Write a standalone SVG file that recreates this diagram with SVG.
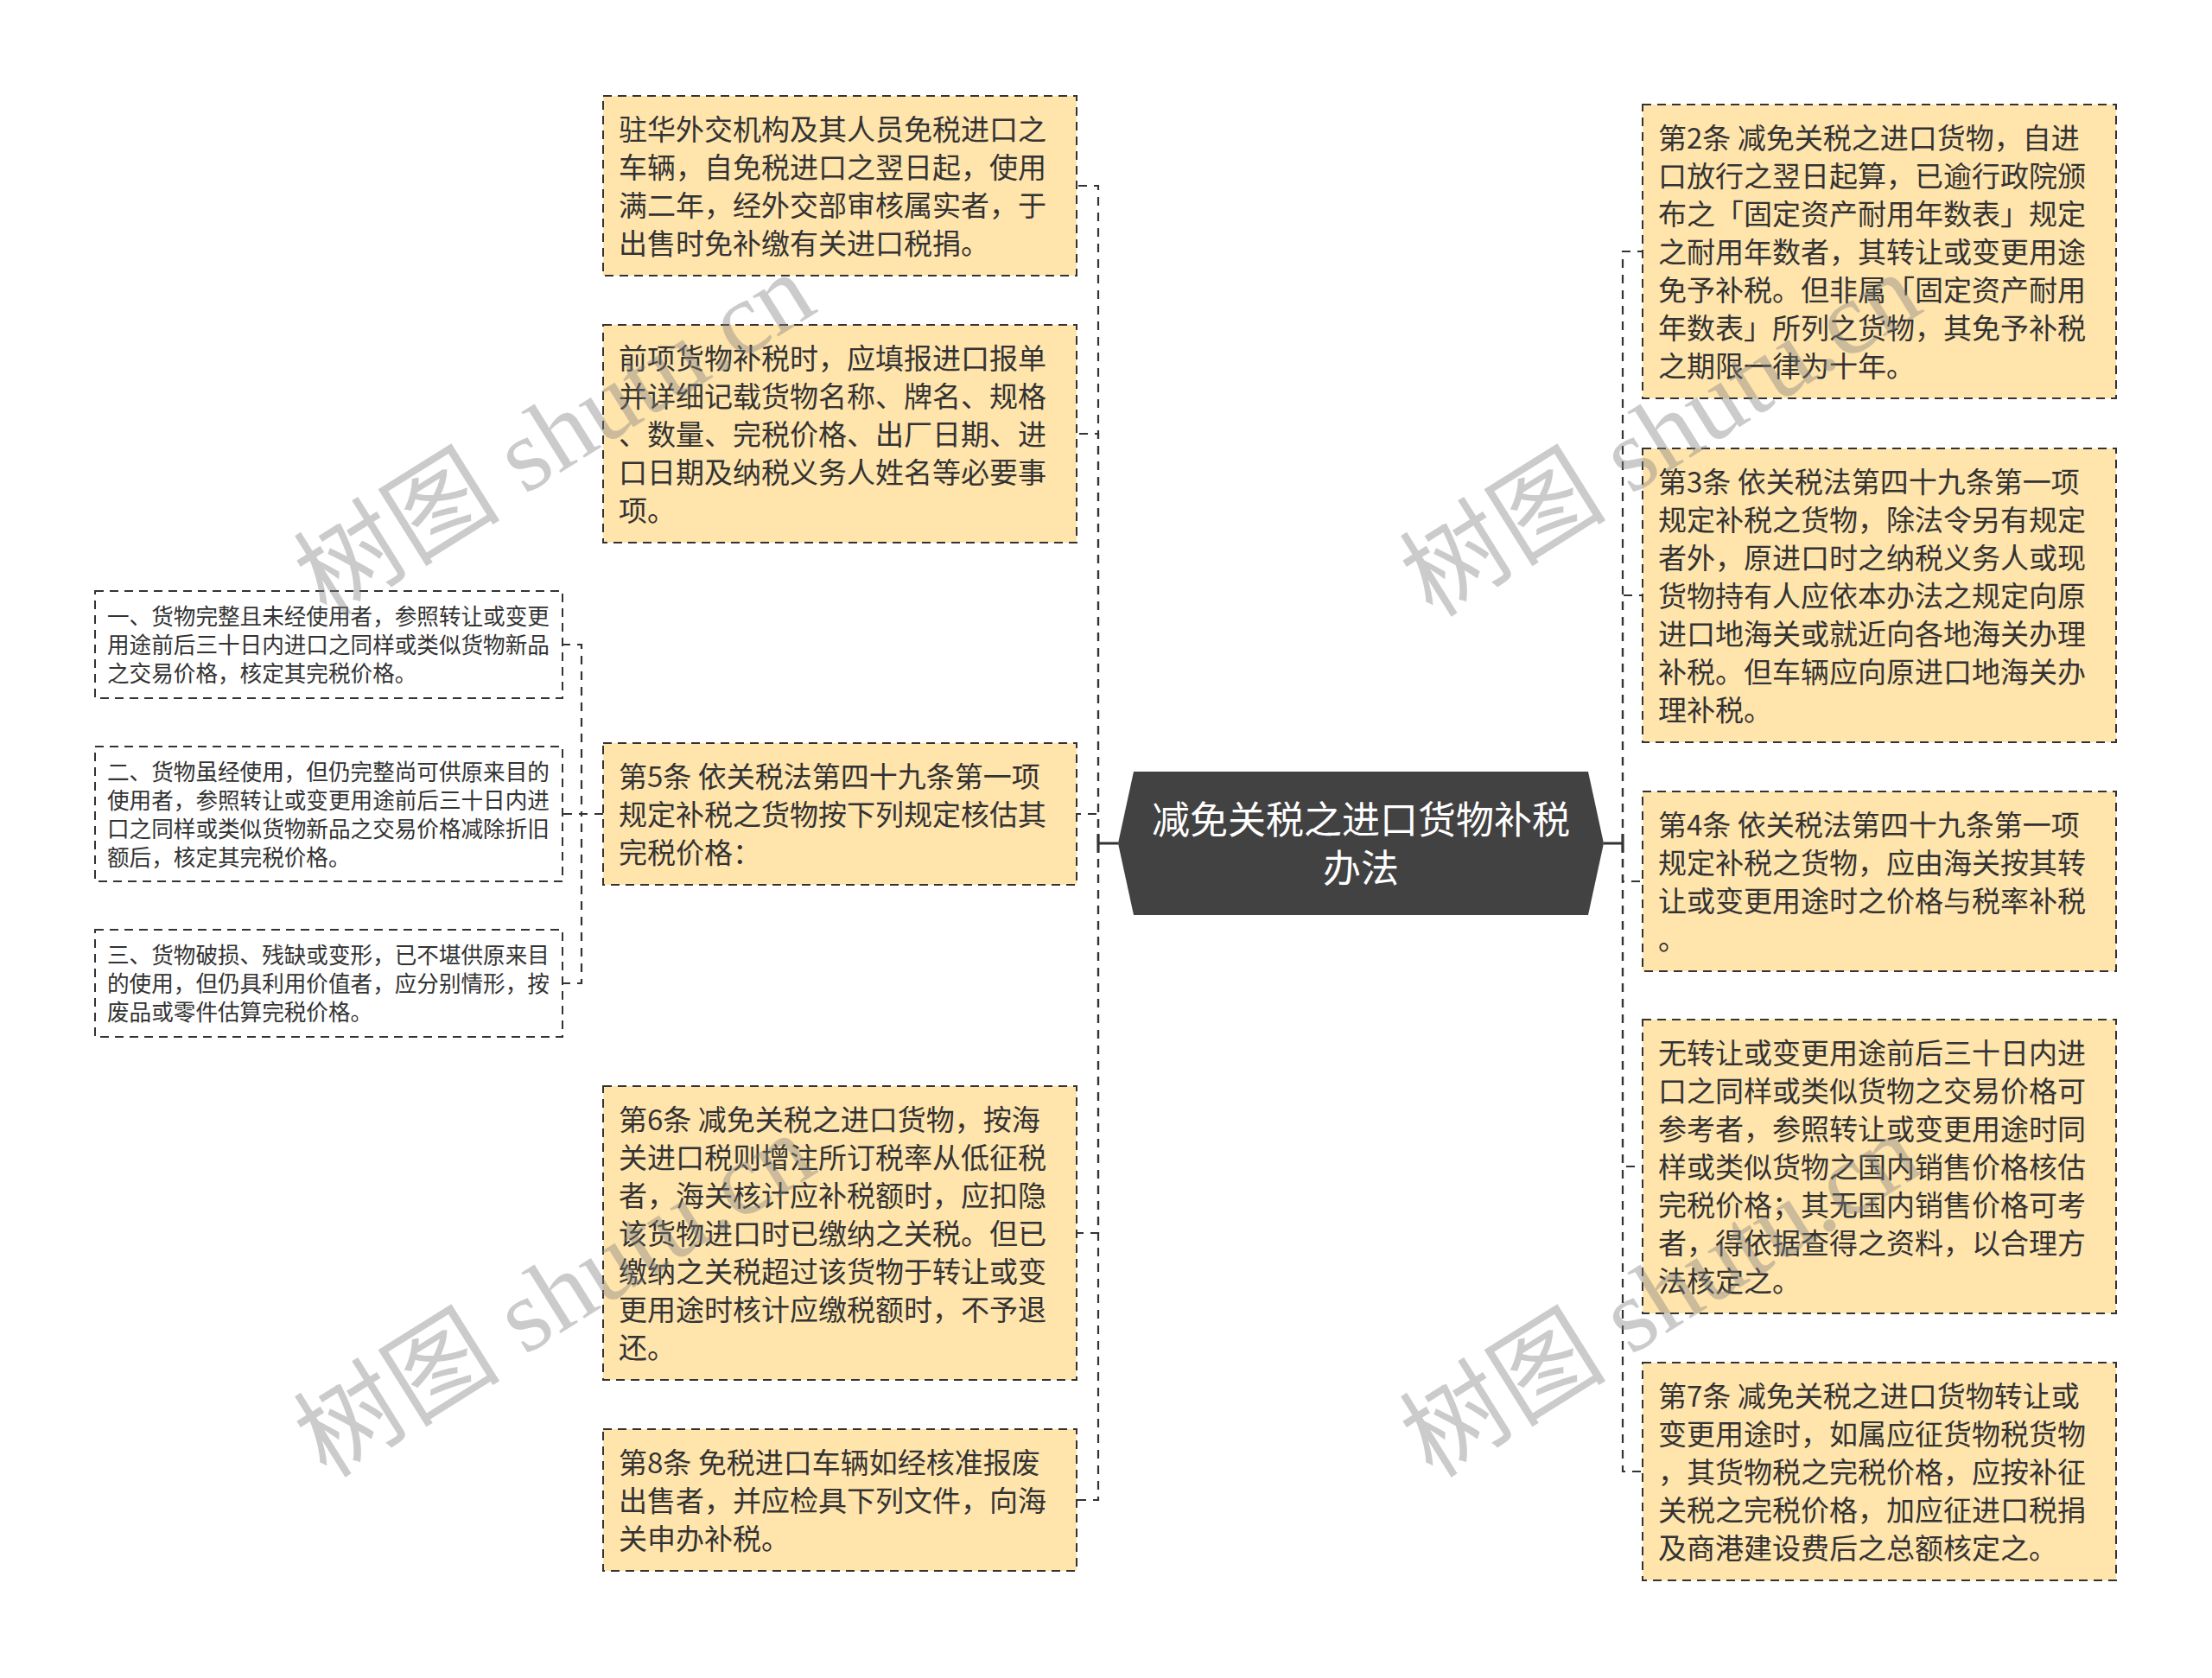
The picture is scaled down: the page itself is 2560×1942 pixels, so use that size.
<svg xmlns="http://www.w3.org/2000/svg" width="2560" height="1942" viewBox="0 0 2560 1942">
<style>
.box{fill:#FFE4AC;stroke:#333;stroke-width:2;stroke-dasharray:10 7}
.sbox{fill:#fff;stroke:#333;stroke-width:2;stroke-dasharray:10 7}
.t{font-family:"Noto Sans CJK SC","Noto Sans",sans-serif;font-size:33px;fill:#333}
.st{font-family:"Noto Sans CJK SC","Noto Sans",sans-serif;font-size:25.6px;fill:#333}
.ct{font-family:"Noto Sans CJK SC","Noto Sans",sans-serif;font-size:44px;fill:#fff;text-anchor:middle}
.dash{fill:none;stroke:#333;stroke-width:2.2;stroke-dasharray:10 8}
.solid{fill:none;stroke:#333;stroke-width:3}
.wm{font-family:"Liberation Serif","Noto Sans CJK SC",serif;font-size:120px;fill:#808080;opacity:0.4}
</style>
<rect width="2560" height="1942" fill="#fff"/>
<g id="connectors">
<path class="dash" d="M1271,976 V215 H1246"/>
<path class="dash" d="M1271,976 V502 H1246"/>
<path class="dash" d="M1271,976 V942 H1246"/>
<path class="dash" d="M1271,976 V1427 H1246"/>
<path class="dash" d="M1271,976 V1736 H1246"/>
<path class="dash" d="M1878,976 V291 H1901"/>
<path class="dash" d="M1878,976 V689 H1901"/>
<path class="dash" d="M1878,976 V1020 H1901"/>
<path class="dash" d="M1878,976 V1350 H1901"/>
<path class="dash" d="M1878,976 V1703 H1901"/>
<path class="dash" d="M698,942 H673 V746 H651"/>
<path class="dash" d="M698,942 H651"/>
<path class="dash" d="M698,942 H673 V1138 H651"/>
<path class="solid" d="M1294,976 H1271 M1271,965 V987"/>
<path class="solid" d="M1856,976 H1878 M1878,965 V987"/>
</g>
<g id="center">
<polygon points="1294,976 1312,893 1838,893 1856,976 1838,1059 1312,1059" fill="#424242"/>
<text class="ct" x="1575" y="965">减免关税之进口货物补税</text>
<text class="ct" x="1575" y="1021">办法</text>
</g>
<g id="L1">
<rect class="box" x="698" y="111" width="548" height="208"/>
<text class="t"><tspan x="716" y="161.5">驻华外交机构及其人员免税进口之</tspan><tspan x="716" y="205.5">车辆，自免税进口之翌日起，使用</tspan><tspan x="716" y="249.5">满二年，经外交部审核属实者，于</tspan><tspan x="716" y="293.5">出售时免补缴有关进口税捐。</tspan></text>
</g>
<g id="L2">
<rect class="box" x="698" y="376" width="548" height="252"/>
<text class="t"><tspan x="716" y="426.5">前项货物补税时，应填报进口报单</tspan><tspan x="716" y="470.5">并详细记载货物名称、牌名、规格</tspan><tspan x="716" y="514.5">、数量、完税价格、出厂日期、进</tspan><tspan x="716" y="558.5">口日期及纳税义务人姓名等必要事</tspan><tspan x="716" y="602.5">项。</tspan></text>
</g>
<g id="L3">
<rect class="box" x="698" y="860" width="548" height="164"/>
<text class="t"><tspan x="716" y="910.5">第5条 依关税法第四十九条第一项</tspan><tspan x="716" y="954.5">规定补税之货物按下列规定核估其</tspan><tspan x="716" y="998.5">完税价格：</tspan></text>
</g>
<g id="L4">
<rect class="box" x="698" y="1257" width="548" height="340"/>
<text class="t"><tspan x="716" y="1307.5">第6条 减免关税之进口货物，按海</tspan><tspan x="716" y="1351.5">关进口税则增注所订税率从低征税</tspan><tspan x="716" y="1395.5">者，海关核计应补税额时，应扣隐</tspan><tspan x="716" y="1439.5">该货物进口时已缴纳之关税。但已</tspan><tspan x="716" y="1483.5">缴纳之关税超过该货物于转让或变</tspan><tspan x="716" y="1527.5">更用途时核计应缴税额时，不予退</tspan><tspan x="716" y="1571.5">还。</tspan></text>
</g>
<g id="L5">
<rect class="box" x="698" y="1654" width="548" height="164"/>
<text class="t"><tspan x="716" y="1704.5">第8条 免税进口车辆如经核准报废</tspan><tspan x="716" y="1748.5">出售者，并应检具下列文件，向海</tspan><tspan x="716" y="1792.5">关申办补税。</tspan></text>
</g>
<g id="R1">
<rect class="box" x="1901" y="121" width="548" height="340"/>
<text class="t"><tspan x="1919" y="171.5">第2条 减免关税之进口货物，自进</tspan><tspan x="1919" y="215.5">口放行之翌日起算，已逾行政院颁</tspan><tspan x="1919" y="259.5">布之「固定资产耐用年数表」规定</tspan><tspan x="1919" y="303.5">之耐用年数者，其转让或变更用途</tspan><tspan x="1919" y="347.5">免予补税。但非属「固定资产耐用</tspan><tspan x="1919" y="391.5">年数表」所列之货物，其免予补税</tspan><tspan x="1919" y="435.5">之期限一律为十年。</tspan></text>
</g>
<g id="R2">
<rect class="box" x="1901" y="519" width="548" height="340"/>
<text class="t"><tspan x="1919" y="569.5">第3条 依关税法第四十九条第一项</tspan><tspan x="1919" y="613.5">规定补税之货物，除法令另有规定</tspan><tspan x="1919" y="657.5">者外，原进口时之纳税义务人或现</tspan><tspan x="1919" y="701.5">货物持有人应依本办法之规定向原</tspan><tspan x="1919" y="745.5">进口地海关或就近向各地海关办理</tspan><tspan x="1919" y="789.5">补税。但车辆应向原进口地海关办</tspan><tspan x="1919" y="833.5">理补税。</tspan></text>
</g>
<g id="R3">
<rect class="box" x="1901" y="916" width="548" height="208"/>
<text class="t"><tspan x="1919" y="966.5">第4条 依关税法第四十九条第一项</tspan><tspan x="1919" y="1010.5">规定补税之货物，应由海关按其转</tspan><tspan x="1919" y="1054.5">让或变更用途时之价格与税率补税</tspan><tspan x="1919" y="1098.5">。</tspan></text>
</g>
<g id="R4">
<rect class="box" x="1901" y="1180" width="548" height="340"/>
<text class="t"><tspan x="1919" y="1230.5">无转让或变更用途前后三十日内进</tspan><tspan x="1919" y="1274.5">口之同样或类似货物之交易价格可</tspan><tspan x="1919" y="1318.5">参考者，参照转让或变更用途时同</tspan><tspan x="1919" y="1362.5">样或类似货物之国内销售价格核估</tspan><tspan x="1919" y="1406.5">完税价格；其无国内销售价格可考</tspan><tspan x="1919" y="1450.5">者，得依据查得之资料，以合理方</tspan><tspan x="1919" y="1494.5">法核定之。</tspan></text>
</g>
<g id="R5">
<rect class="box" x="1901" y="1577" width="548" height="252"/>
<text class="t"><tspan x="1919" y="1627.5">第7条 减免关税之进口货物转让或</tspan><tspan x="1919" y="1671.5">变更用途时，如属应征货物税货物</tspan><tspan x="1919" y="1715.5">，其货物税之完税价格，应按补征</tspan><tspan x="1919" y="1759.5">关税之完税价格，加应征进口税捐</tspan><tspan x="1919" y="1803.5">及商港建设费后之总额核定之。</tspan></text>
</g>
<g id="S1">
<rect class="sbox" x="110" y="684" width="541" height="124"/>
<text class="st"><tspan x="124" y="722.7">一、货物完整且未经使用者，参照转让或变更</tspan><tspan x="124" y="755.7">用途前后三十日内进口之同样或类似货物新品</tspan><tspan x="124" y="788.7">之交易价格，核定其完税价格。</tspan></text>
</g>
<g id="S2">
<rect class="sbox" x="110" y="864" width="541" height="156"/>
<text class="st"><tspan x="124" y="902.7">二、货物虽经使用，但仍完整尚可供原来目的</tspan><tspan x="124" y="935.7">使用者，参照转让或变更用途前后三十日内进</tspan><tspan x="124" y="968.7">口之同样或类似货物新品之交易价格减除折旧</tspan><tspan x="124" y="1001.7">额后，核定其完税价格。</tspan></text>
</g>
<g id="S3">
<rect class="sbox" x="110" y="1076" width="541" height="124"/>
<text class="st"><tspan x="124" y="1114.7">三、货物破损、残缺或变形，已不堪供原来目</tspan><tspan x="124" y="1147.7">的使用，但仍具利用价值者，应分别情形，按</tspan><tspan x="124" y="1180.7">废品或零件估算完税价格。</tspan></text>
</g>
<g id="watermarks">
<text class="wm" transform="translate(378,716) rotate(-32)">树图 shutu.cn</text>
<text class="wm" transform="translate(378,1712) rotate(-32)">树图 shutu.cn</text>
<text class="wm" transform="translate(1658,716) rotate(-32)">树图 shutu.cn</text>
<text class="wm" transform="translate(1658,1712) rotate(-32)">树图 shutu.cn</text>
</g>
</svg>
